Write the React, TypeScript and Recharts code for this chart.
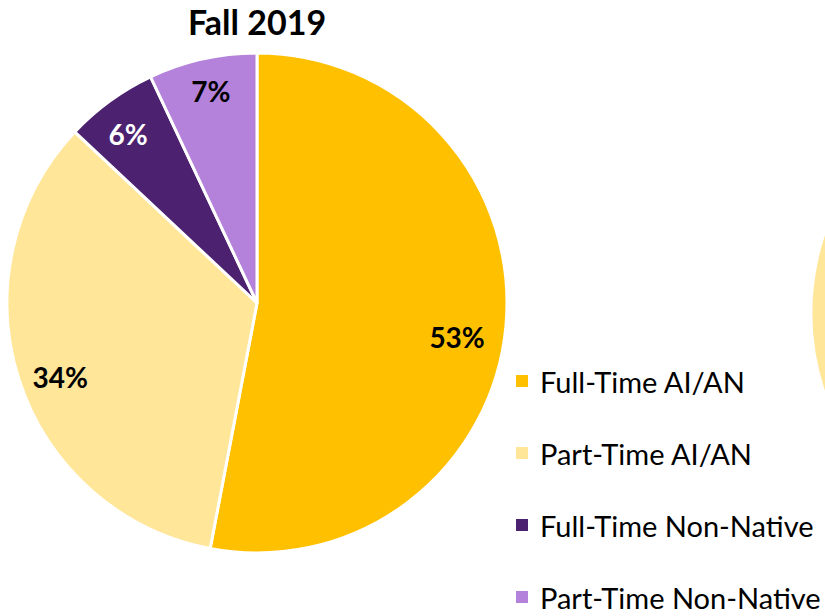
import React from "react"
import { PieChart, Pie, Cell, Legend } from "recharts"

const categories = [
  "Full-Time AI/AN",
  "Part-Time AI/AN",
  "Full-Time Non-Native",
  "Part-Time Non-Native",
]
const fall2019 = [53, 34, 6, 7]
// the next chart is cut off at the right edge; only its part-time slice shows
const nextChart = [53, 34, 6, 7]
const colors = ["#FFC000", "#FFE699", "#4B2170", "#B482DA"]
const labelColors = ["#000000", "#000000", "#FFFFFF", "#000000"]
// small per-label nudges so labels sit where the original placed them
const labelShift = [
  [-2, 15],
  [4, 9],
  [-5, 2],
  [0, -6],
]

const FONT = "Lato, 'Open Sans', sans-serif"
const RADIAN = Math.PI / 180

const data = categories.map((name, i) => ({ name, value: fall2019[i] }))
const nextData = categories.map((name, i) => ({ name, value: nextChart[i] }))

const renderLabel = (props: any) => {
  const { cx, cy, midAngle, index, value } = props
  const r = index === 0 ? 203 : 211
  const x = cx + r * Math.cos(-midAngle * RADIAN) + labelShift[index][0]
  const y = cy + r * Math.sin(-midAngle * RADIAN) + labelShift[index][1]
  return (
    <text
      x={x}
      y={y}
      fill={labelColors[index]}
      textAnchor="middle"
      dominantBaseline="central"
      fontFamily={FONT}
      fontWeight="bold"
      fontSize={28}
    >
      {value}%
    </text>
  )
}

const renderLegend = () => (
  <div>
    {categories.map((c, i) => (
      <div
        key={c}
        style={{
          display: "flex",
          alignItems: "center",
          height: 72,
          fontFamily: FONT,
          fontSize: 29,
          color: "#000",
          whiteSpace: "nowrap",
        }}
      >
        <span
          style={{
            width: 12,
            height: 12,
            background: colors[i],
            marginRight: 12,
            display: "inline-block",
            flexShrink: 0,
          }}
        />
        {c}
      </div>
    ))}
  </div>
)

export default function App() {
  return (
    <div style={{ position: "absolute", left: 0, top: 0, width: 825, height: 616, background: "#fff", overflow: "hidden" }}>
      <div
        style={{
          position: "absolute",
          left: 0,
          width: 514,
          top: 0,
          textAlign: "center",
          fontFamily: FONT,
          fontWeight: "bold",
          fontSize: 34,
          lineHeight: "44px",
          color: "#000",
        }}
      >
        Fall 2019
      </div>
      <PieChart
        width={825}
        height={616}
        margin={{ top: 0, right: 0, bottom: 0, left: 0 }}
        style={{ position: "absolute", left: 0, top: 0 }}
      >
        <Pie
          data={data}
          dataKey="value"
          cx={257}
          cy={303}
          outerRadius={250}
          startAngle={90}
          endAngle={-270}
          stroke="#fff"
          strokeWidth={3}
          label={renderLabel}
          labelLine={false}
          isAnimationActive={false}
        >
          {data.map((d, i) => (
            <Cell key={d.name} fill={colors[i]} />
          ))}
        </Pie>
        <Pie
          data={nextData}
          dataKey="value"
          cx={1061}
          cy={313}
          outerRadius={250}
          startAngle={90}
          endAngle={-270}
          stroke="#fff"
          strokeWidth={3}
          isAnimationActive={false}
        >
          {nextData.map((d, i) => (
            <Cell key={d.name} fill={colors[i]} />
          ))}
        </Pie>
        <Legend
          layout="vertical"
          content={renderLegend}
          wrapperStyle={{ left: 516, top: 345, width: 320 }}
        />
      </PieChart>
    </div>
  )
}
